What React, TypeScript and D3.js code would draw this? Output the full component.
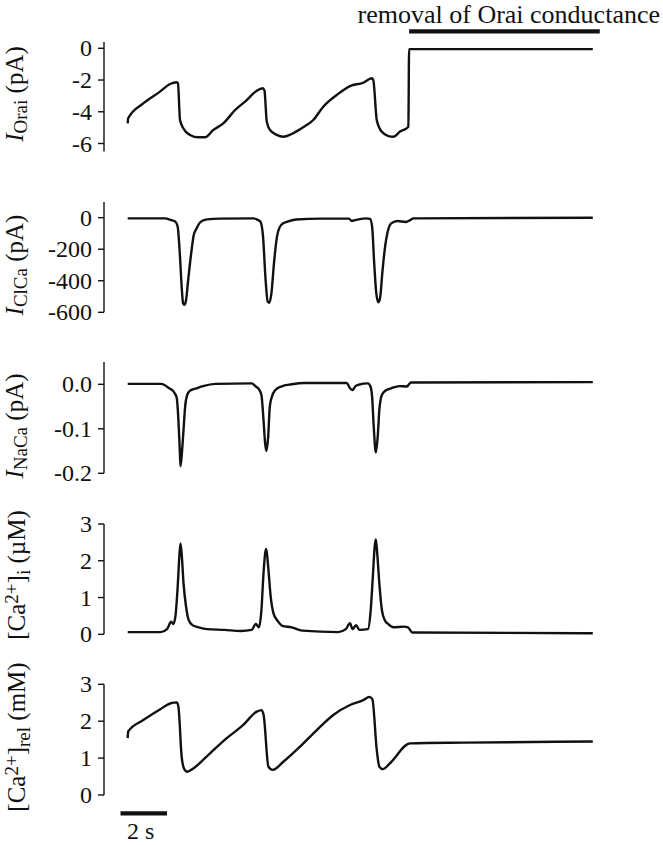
import React from 'react';
import * as d3 from 'd3';

// traces: [time (s), value]
const oraiTrace: [number, number][] = [
  [0, -4.73], [0.02, -4.41], [0.67, -3.47], [1.39, -2.73], [1.82, -2.25], [2.11, -2.14], [2.16, -2.2],
  [2.25, -4.52], [2.39, -5.04], [2.68, -5.46], [3.04, -5.61], [3.32, -5.61], [3.68, -5.15], [4.11, -4.73],
  [4.62, -3.89], [5.12, -3.26], [5.55, -2.67], [5.81, -2.52], [5.88, -2.65], [5.98, -4.62], [6.12, -5.15],
  [6.41, -5.46], [6.69, -5.57], [7.05, -5.4], [7.48, -5.04], [7.98, -4.52], [8.41, -3.68], [8.99, -2.94],
  [9.56, -2.38], [10.13, -2.17], [10.49, -1.89], [10.56, -2.0], [10.71, -4.52], [10.92, -5.25],
  [11.21, -5.53], [11.42, -5.57], [11.71, -5.25], [12.07, -4.94], [12.1, -0.05], [20, -0.05],
];

const clcaTrace: [number, number][] = [
  [0, -4], [1.6, -4], [1.87, -15], [2.05, -25], [2.15, -57], [2.24, -226], [2.33, -458], [2.38, -543],
  [2.44, -553], [2.51, -522], [2.6, -395], [2.73, -226], [2.84, -110], [2.96, -68], [3.15, -25],
  [3.42, -11], [3.96, -6], [5.42, -4], [5.6, -15], [5.71, -25], [5.82, -120], [5.93, -395], [6.02, -532],
  [6.09, -539], [6.18, -480], [6.29, -289], [6.42, -120], [6.6, -46], [6.87, -25], [7.24, -11],
  [8.33, -6], [9.51, -6], [9.64, -21], [9.78, -15], [10.24, -4], [10.42, -8], [10.51, -57], [10.6, -290],
  [10.69, -480], [10.78, -537], [10.85, -511], [10.96, -332], [11.05, -205], [11.18, -89], [11.33, -36],
  [11.6, -21], [11.96, -27], [12.15, -15], [12.29, -4], [20, 0],
];

const nacaTrace: [number, number][] = [
  [0, 0.001], [1.42, 0.001], [1.6, -0.002], [1.78, -0.009], [1.91, -0.013], [2.02, -0.02], [2.11, -0.031],
  [2.18, -0.08], [2.24, -0.148], [2.27, -0.184], [2.33, -0.155], [2.4, -0.103], [2.47, -0.05],
  [2.56, -0.024], [2.69, -0.014], [2.96, -0.009], [3.24, -0.004], [3.78, 0.001], [5.33, 0.002],
  [5.51, -0.005], [5.64, -0.011], [5.75, -0.024], [5.84, -0.08], [5.91, -0.133], [5.96, -0.15],
  [6.04, -0.118], [6.11, -0.05], [6.2, -0.028], [6.33, -0.014], [6.6, -0.005], [7.05, 0], [7.6, 0.003],
  [9.42, 0.003], [9.56, -0.009], [9.67, -0.013], [9.78, -0.005], [9.93, -0.001], [10.33, 0.002],
  [10.44, -0.005], [10.51, -0.028], [10.58, -0.095], [10.67, -0.153], [10.75, -0.118], [10.82, -0.058],
  [10.93, -0.024], [11.09, -0.014], [11.33, -0.009], [11.69, -0.004], [12.0, -0.005], [12.18, 0.004],
  [20, 0.005],
];

const caiTrace: [number, number][] = [
  [0, 0.06], [1.42, 0.06], [1.69, 0.14], [1.87, 0.34], [1.96, 0.28], [2.05, 0.48], [2.15, 1.3],
  [2.22, 2.11], [2.27, 2.47], [2.33, 2.11], [2.4, 1.39], [2.51, 0.75], [2.62, 0.39], [2.78, 0.25],
  [3.05, 0.19], [3.42, 0.14], [4.15, 0.12], [4.87, 0.09], [5.33, 0.12], [5.51, 0.28], [5.64, 0.19],
  [5.75, 0.66], [5.84, 1.66], [5.91, 2.2], [5.96, 2.32], [6.04, 1.84], [6.15, 1.02], [6.27, 0.57],
  [6.44, 0.37], [6.65, 0.23], [7.05, 0.19], [7.51, 0.1], [9.05, 0.06], [9.38, 0.14], [9.56, 0.3],
  [9.67, 0.14], [9.82, 0.25], [9.96, 0.12], [10.33, 0.14], [10.45, 0.66], [10.55, 1.66], [10.62, 2.38],
  [10.67, 2.58], [10.73, 2.2], [10.82, 1.39], [10.93, 0.66], [11.05, 0.39], [11.2, 0.28], [11.42, 0.19],
  [11.87, 0.21], [12.05, 0.19], [12.24, 0.05], [20, 0.03],
];

const carelTrace: [number, number][] = [
  [0, 1.54], [0.02, 1.72], [0.67, 2.03], [1.39, 2.32], [1.82, 2.48], [2.11, 2.51], [2.18, 2.4],
  [2.32, 1.04], [2.42, 0.72], [2.56, 0.63], [2.82, 0.72], [3.54, 1.13], [4.26, 1.54], [4.97, 1.9],
  [5.55, 2.26], [5.76, 2.3], [5.85, 2.15], [6.05, 0.77], [6.24, 0.68], [6.69, 0.9], [7.41, 1.31],
  [8.13, 1.76], [8.84, 2.17], [9.56, 2.44], [10.13, 2.57], [10.39, 2.66], [10.52, 2.6], [10.71, 1.22],
  [10.82, 0.77], [10.97, 0.7], [11.28, 0.86], [12.14, 1.4], [14.51, 1.42], [20, 1.45],
];

const oraiTicks = [0, -2, -4, -6];
const oraiTickLabels = ['0', '-2', '-4', '-6'];
const clcaTicks = [0, -200, -400, -600];
const clcaTickLabels = ['0', '-200', '-400', '-600'];
const nacaTicks = [0, -0.1, -0.2];
const nacaTickLabels = ['0.0', '-0.1', '-0.2'];
const caTicks = [0, 1, 2, 3];
const caTickLabels = ['0', '1', '2', '3'];

// removal of Orai conductance (s) and the 2 s scale bar
const removalPeriod = [12.1, 20.3];
const scaleBar = [-0.31, 1.69];

const FONT = '"Liberation Serif", "Times New Roman", serif';

const x = d3.scaleLinear().domain([0, 20]).range([127.7, 592.8]);

const AXIS_X = 104;

const panels = [
  {
    key: 'orai', data: oraiTrace, ticks: oraiTicks, labels: oraiTickLabels,
    y: d3.scaleLinear().domain([-6, 0]).range([143.5, 48.3]), extent: [-6.5, 0.4],
    labelY: 94, labelX: 23,
  },
  {
    key: 'clca', data: clcaTrace, ticks: clcaTicks, labels: clcaTickLabels,
    y: d3.scaleLinear().domain([-600, 0]).range([312.3, 217.7]), extent: [-600, 100],
    labelY: 265, labelX: 23,
  },
  {
    key: 'naca', data: nacaTrace, ticks: nacaTicks, labels: nacaTickLabels,
    y: d3.scaleLinear().domain([-0.2, 0]).range([473.3, 384.3]), extent: [-0.2, 0.05],
    labelY: 426, labelX: 23,
  },
  {
    key: 'cai', data: caiTrace, ticks: caTicks, labels: caTickLabels,
    y: d3.scaleLinear().domain([0, 3]).range([634.3, 524]), extent: [0, 3],
    labelY: 575, labelX: 25,
  },
  {
    key: 'carel', data: carelTrace, ticks: caTicks, labels: caTickLabels,
    y: d3.scaleLinear().domain([0, 3]).range([795, 684.3]), extent: [0, 3],
    labelY: 737, labelX: 25,
  },
];

function YLabel({ k }: { k: string }) {
  const sub = { fontSize: 19 };
  if (k === 'orai')
    return (<><tspan fontStyle="italic">I</tspan><tspan {...sub} dy={4}>Orai</tspan><tspan dy={-4}> (pA)</tspan></>);
  if (k === 'clca')
    return (<><tspan fontStyle="italic">I</tspan><tspan {...sub} dy={4}>ClCa</tspan><tspan dy={-4}> (pA)</tspan></>);
  if (k === 'naca')
    return (<><tspan fontStyle="italic">I</tspan><tspan {...sub} dy={4}>NaCa</tspan><tspan dy={-4}> (pA)</tspan></>);
  if (k === 'cai')
    return (<>[Ca<tspan {...sub} dy={-7}>2+</tspan><tspan dy={7}>]</tspan><tspan {...sub} dy={5}>i</tspan><tspan dy={-5}> (µM)</tspan></>);
  return (<>[Ca<tspan {...sub} dy={-7}>2+</tspan><tspan dy={7}>]</tspan><tspan {...sub} dy={5}>rel</tspan><tspan dy={-5}> (mM)</tspan></>);
}

export default function App() {
  return (
    <svg width={663} height={845} style={{ position: 'absolute', left: 0, top: 0, background: '#fff' }}
      fontFamily={FONT}>
      <rect width={663} height={845} fill="#fff" />
      {panels.map(p => {
        const line = d3.line<[number, number]>()
          .x(d => x(d[0]))
          .y(d => p.y(d[1]))
          .curve(d3.curveMonotoneX);
        return (
          <g key={p.key}>
            <line x1={AXIS_X} x2={AXIS_X} y1={p.y(p.extent[0])} y2={p.y(p.extent[1])} stroke="#111" strokeWidth={1.4} />
            {p.ticks.map((t, i) => (
              <g key={i}>
                <line x1={AXIS_X - 6} x2={AXIS_X} y1={p.y(t)} y2={p.y(t)} stroke="#111" strokeWidth={1.4} />
                <text x={92} y={p.y(t)} dy="0.34em" textAnchor="end" fontSize={24} fill="#111">{p.labels[i]}</text>
              </g>
            ))}
            <path d={line(p.data) || ''} fill="none" stroke="#111" strokeWidth={2.4} strokeLinejoin="round" />
            <text transform={`translate(${p.labelX},${p.labelY}) rotate(-90)`} textAnchor="middle" fontSize={25} fill="#111">
              <YLabel k={p.key} />
            </text>
          </g>
        );
      })}
      <text x={660} y={23} textAnchor="end" fontSize={26} fill="#111">removal of Orai conductance</text>
      <line x1={x(removalPeriod[0])} x2={x(removalPeriod[1])} y1={31.3} y2={31.3} stroke="#111" strokeWidth={4.2} />
      <line x1={x(scaleBar[0])} x2={x(scaleBar[1])} y1={813.3} y2={813.3} stroke="#111" strokeWidth={4.2} />
      <text x={127} y={839} fontSize={24} fill="#111">2 s</text>
    </svg>
  );
}
